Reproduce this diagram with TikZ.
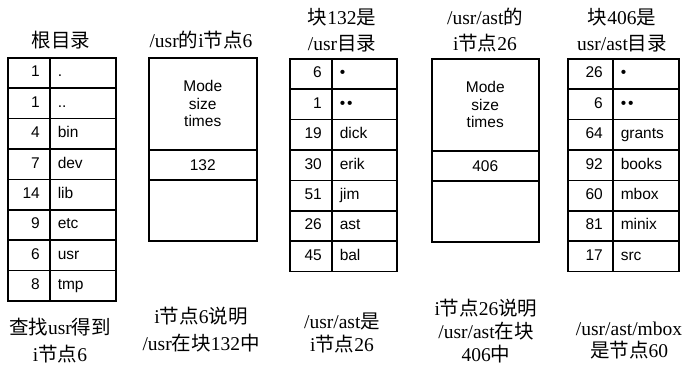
\documentclass[tikz,border=0pt]{standalone}
\usepackage{fontspec}
\setmainfont{Liberation Serif}
\setsansfont{Liberation Sans}
\newfontfamily\cjk{Noto Sans CJK SC}
\newcommand\zh[1]{{\cjk #1}}
\begin{document}
\begin{tikzpicture}[x=1pt,y=-1pt,
  cell/.style={draw, line width=1.5pt, rectangle, inner ysep=0pt, minimum height=30.4pt,
    anchor=north west, text height=11pt, text depth=3pt, font=\sffamily\fontsize{15.5}{18}\selectfont},
  numcell/.style={cell, text width=#1, inner xsep=10pt, align=right},
  namecell/.style={cell, text width=#1, inner xsep=8pt, align=left},
  blk/.style={draw, line width=1.5pt, rectangle, inner sep=0pt, anchor=north west, align=center,
    minimum width=#1, font=\sffamily\fontsize{15.5}{17.5}\selectfont},
  lbl/.style={font=\fontsize{19.5}{#1}\selectfont, align=center, inner sep=0pt}]
\useasboundingbox (0,0) rectangle (687,367);
% table 1: root directory
\foreach \n/\m [count=\i from 0] in {1/., 1/.., 4/bin, 7/dev, 14/lib, 9/etc, 6/usr, 8/tmp}{
  \node[numcell=22pt] (a-n-\i) at (7,57+30.4*\i) {\n};
  \node[namecell=50pt] (a-m-\i) at (49,57+30.4*\i) {\m};
}
% table 2: i-node 6
\node[blk=108pt, minimum height=92pt] (b-top) at (148,57) {Mode\\size\\times};
\node[blk=108pt, minimum height=30pt] (b-mid) at (148,149) {132};
\node[blk=108pt, minimum height=61pt] (b-bot) at (148,179) {};
% table 3: block 132
\foreach \n/\m [count=\i from 0] in {6/•, 1/•\kern2pt•, 19/dick, 30/erik, 51/jim, 26/ast, 45/bal}{
  \node[numcell=22pt] (c-n-\i) at (289,58+30.4*\i) {\n};
  \node[namecell=49pt] (c-m-\i) at (331,58+30.4*\i) {\m};
}
% table 4: i-node 26
\node[blk=107pt, minimum height=92pt] (d-top) at (431,58) {Mode\\size\\times};
\node[blk=107pt, minimum height=30pt] (d-mid) at (431,150) {406};
\node[blk=107pt, minimum height=61pt] (d-bot) at (431,180) {};
% table 5: block 406
\foreach \n/\m [count=\i from 0] in {26/•, 6/•\kern2pt•, 64/grants, 92/books, 60/mbox, 81/minix, 17/src}{
  \node[numcell=25pt] (e-n-\i) at (567,58+30.4*\i) {\n};
  \node[namecell=50pt] (e-m-\i) at (612,58+30.4*\i) {\m};
}
% titles
\node[lbl=26pt] (t1) at (61,40) {\zh{根目录}};
\node[lbl=26pt] (t2) at (201,40) {/usr\zh{的}i\zh{节点}6};
\node[lbl=26pt] (t3) at (342,30) {\zh{块}132\zh{是}\\/usr\zh{目录}};
\node[lbl=26pt] (t4) at (485,30) {/usr/ast\zh{的}\\i\zh{节点}26};
\node[lbl=26pt] (t5) at (622,30) {\zh{块}406\zh{是}\\usr/ast\zh{目录}};
% captions
\node[lbl=27pt] (c1) at (60,341) {\zh{查找}usr\zh{得到}\\i\zh{节点}6};
\node[lbl=27pt] (c2) at (201,330) {i\zh{节点}6\zh{说明}\\/usr\zh{在块}132\zh{中}};
\node[lbl=23pt] (c3) at (342,333) {/usr/ast\zh{是}\\i\zh{节点}26};
\node[lbl=23pt] (c4) at (486,331) {i\zh{节点}26\zh{说明}\\/usr/ast\zh{在块}\\406\zh{中}};
\node[lbl=22pt] (c5) at (629,341) {/usr/ast/mbox\\\zh{是节点}60};
\end{tikzpicture}
\end{document}
